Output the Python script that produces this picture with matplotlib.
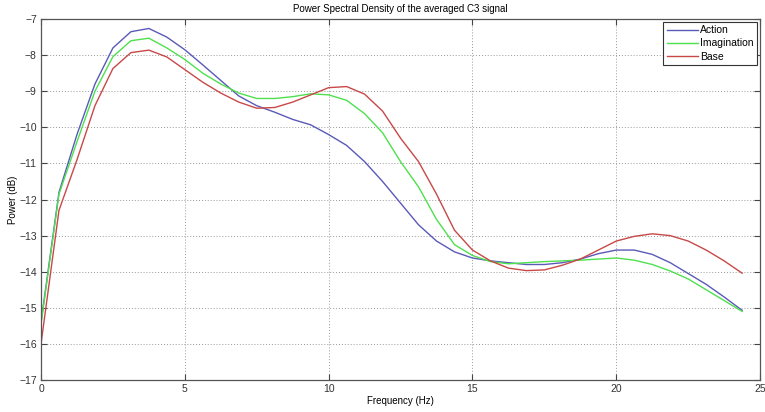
import numpy as np
from matplotlib import pyplot as plt

# frequency bins (Hz), 0.625 Hz spacing
freq = np.arange(40) * 0.625

action = [-15.4, -11.8, -10.2, -8.8, -7.8, -7.35, -7.26, -7.5, -7.85, -8.27,
          -8.7, -9.13, -9.4, -9.58, -9.78, -9.93, -10.2, -10.5, -10.95, -11.5,
          -12.1, -12.7, -13.15, -13.45, -13.62, -13.7, -13.75, -13.8, -13.8, -13.75,
          -13.65, -13.5, -13.4, -13.4, -13.52, -13.75, -14.05, -14.35, -14.7, -15.07]
imagination = [-15.45, -11.85, -10.4, -9.0, -8.04, -7.6, -7.53, -7.8, -8.12, -8.5,
               -8.8, -9.05, -9.2, -9.2, -9.15, -9.07, -9.1, -9.25, -9.62, -10.15,
               -10.95, -11.65, -12.55, -13.25, -13.55, -13.72, -13.78, -13.75, -13.72, -13.7,
               -13.68, -13.65, -13.62, -13.68, -13.8, -13.98, -14.2, -14.5, -14.8, -15.1]
base = [-16.0, -12.3, -10.9, -9.4, -8.37, -7.93, -7.86, -8.05, -8.4, -8.75,
        -9.05, -9.3, -9.47, -9.45, -9.3, -9.1, -8.9, -8.87, -9.08, -9.55,
        -10.3, -10.95, -11.85, -12.85, -13.4, -13.7, -13.9, -13.97, -13.95, -13.82,
        -13.65, -13.4, -13.15, -13.02, -12.95, -13.0, -13.15, -13.4, -13.7, -14.04]

series = [("Action", action, "#5a5ab8"),
          ("Imagination", imagination, "#4ee04e"),
          ("Base", base, "#c84848")]

plt.rcParams["font.family"] = ["Liberation Sans", "DejaVu Sans"]
fig = plt.figure(figsize=(7.65, 4.12), dpi=100)
ax = fig.add_axes([0.0536, 0.0777, 0.94, 0.876])

for label, values, color in series:
    ax.plot(freq, values, color=color, linewidth=1.0, label=label)

ax.set_xlim(0, 25)
ax.set_ylim(-17, -7)
ax.set_xticks(np.arange(0, 26, 5))
ax.set_yticks(np.arange(-17, -6, 1))
ax.tick_params(direction="in", labelsize=7.5, labelcolor="#333333", color="#444444",
               length=4, width=0.8, top=True, right=True, pad=3)
ax.grid(True, linestyle=(0, (1, 2)), color="#999999", linewidth=0.7)
for spine in ax.spines.values():
    spine.set_color("#555555")
    spine.set_linewidth(0.9)

ax.set_xlabel("Frequency (Hz)", fontsize=7, labelpad=1)
ax.set_ylabel("Power (dB)", fontsize=7, labelpad=1)
ax.set_title("Power Spectral Density of the averaged C3 signal", fontsize=7, pad=5)

leg = ax.legend(loc="upper right", fontsize=7.5, handlelength=3.0, handletextpad=0.2,
                labelspacing=0.3, borderpad=0.35, fancybox=False, framealpha=1,
                borderaxespad=0.25)
leg.get_frame().set_edgecolor("#333333")
leg.get_frame().set_linewidth(0.8)

fig.savefig("out.png", dpi=100)
